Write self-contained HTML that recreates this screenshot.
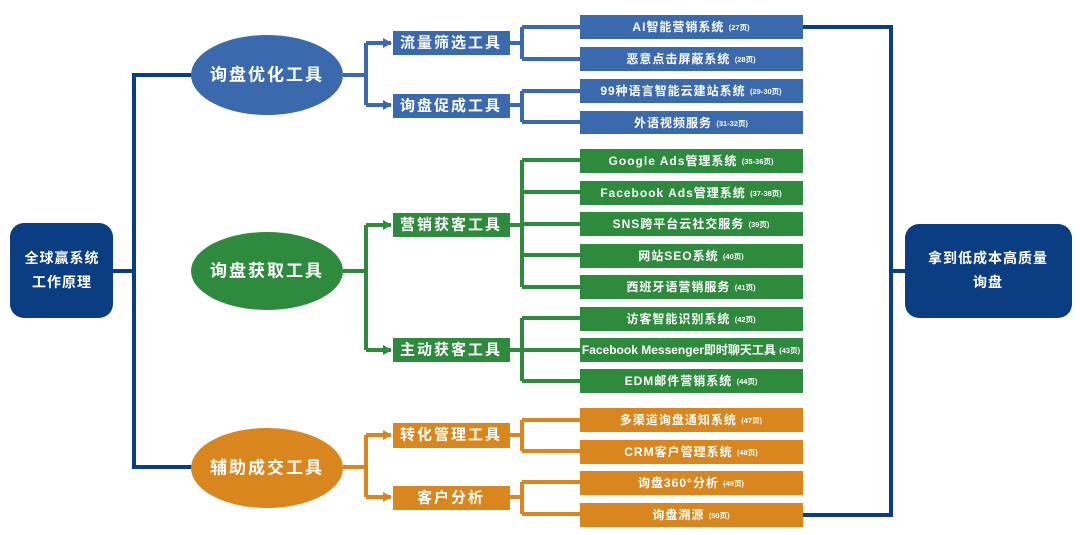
<!DOCTYPE html>
<html><head><meta charset="utf-8"><style>
html,body{margin:0;padding:0;background:#fff}
svg{display:block}
text{font-family:"Liberation Sans","Noto Sans CJK SC",sans-serif;font-weight:bold;fill:#fff;text-anchor:middle;dominant-baseline:central;letter-spacing:1px}
.t1{font-size:17px;letter-spacing:2px}
.t2{font-size:15px;letter-spacing:2px}
.t3{font-size:12px}
.p{font-size:7.5px;letter-spacing:0}
</style></head><body>
<svg width="1080" height="535" viewBox="0 0 1080 535">
<defs>
<marker id="ab" markerWidth="10" markerHeight="10" refX="8" refY="5" orient="auto" markerUnits="userSpaceOnUse"><path d="M0,0 L9,5 L0,10z" fill="#3a6aad"/></marker>
<marker id="ag" markerWidth="10" markerHeight="10" refX="8" refY="5" orient="auto" markerUnits="userSpaceOnUse"><path d="M0,0 L9,5 L0,10z" fill="#2e8b3e"/></marker>
<marker id="ao" markerWidth="10" markerHeight="10" refX="8" refY="5" orient="auto" markerUnits="userSpaceOnUse"><path d="M0,0 L9,5 L0,10z" fill="#d9861f"/></marker>
</defs>
<g fill="none" stroke-width="4">
<path d="M113,271 H134 M193,75 H134 V467 H193" stroke="#0b3d82"/>
<path d="M803,27 H891 V515 H803 M891,271 H905" stroke="#0b3d82"/>
<path d="M343,75 H366 M366,43 V105" stroke="#3a6aad"/>
<path d="M366,43 H391" stroke="#3a6aad" marker-end="url(#ab)"/>
<path d="M366,105 H391" stroke="#3a6aad" marker-end="url(#ab)"/>
<path d="M510,43 H522 M522,27 V59 M522,27 H580 M522,59 H580 M510,105 H522 M522,91 V122 M522,91 H580 M522,122 H580" stroke="#3a6aad"/>
<path d="M343,271 H366 M366,225 V350" stroke="#2e8b3e"/>
<path d="M366,225 H391" stroke="#2e8b3e" marker-end="url(#ag)"/>
<path d="M366,350 H391" stroke="#2e8b3e" marker-end="url(#ag)"/>
<path d="M510,225 H522 M522,160 V287 M522,160 H580 M522,192 H580 M522,224 H580 M522,255 H580 M522,287 H580 M510,350 H522 M522,318 V381 M522,318 H580 M522,350 H580 M522,381 H580" stroke="#2e8b3e"/>
<path d="M343,467 H366 M366,435 V497" stroke="#d9861f"/>
<path d="M366,435 H391" stroke="#d9861f" marker-end="url(#ao)"/>
<path d="M366,497 H391" stroke="#d9861f" marker-end="url(#ao)"/>
<path d="M510,435 H522 M522,420 V451 M522,420 H580 M522,451 H580 M510,497 H522 M522,482 V514 M522,482 H580 M522,514 H580" stroke="#d9861f"/>
</g>
<rect x="10" y="223" width="103" height="95" rx="14" fill="#0b3d82"/>
<text x="62" y="258" class="t3" style="font-size:14px">全球赢系统</text>
<text x="62" y="282" class="t3" style="font-size:14px">工作原理</text>
<rect x="905" y="224" width="167" height="94" rx="14" fill="#0b3d82"/>
<text x="988" y="258" class="t3" style="font-size:14px">拿到低成本高质量</text>
<text x="988" y="282" class="t3" style="font-size:14px">询盘</text>
<ellipse cx="267" cy="75" rx="76" ry="40" fill="#3a6aad"/><text x="267" y="75" class="t1">询盘优化工具</text>
<ellipse cx="267" cy="271" rx="76" ry="39" fill="#2e8b3e"/><text x="267" y="271" class="t1">询盘获取工具</text>
<ellipse cx="267" cy="468" rx="76" ry="40" fill="#d9861f"/><text x="267" y="468" class="t1">辅助成交工具</text>
<g fill="#3a6aad"><rect x="393" y="31" width="117" height="24"/><rect x="393" y="94" width="117" height="24"/></g>
<text x="451" y="43" class="t2">流量筛选工具</text><text x="451" y="106" class="t2">询盘促成工具</text>
<g fill="#2e8b3e"><rect x="393" y="213" width="117" height="24"/><rect x="393" y="338" width="117" height="24"/></g>
<text x="451" y="225" class="t2">营销获客工具</text><text x="451" y="350" class="t2">主动获客工具</text>
<g fill="#d9861f"><rect x="393" y="423" width="117" height="25"/><rect x="393" y="486" width="117" height="24"/></g>
<text x="451" y="435" class="t2">转化管理工具</text><text x="451" y="498" class="t2">客户分析</text>
<g fill="#3a6aad"><rect x="580" y="15" width="223" height="24"/><rect x="580" y="47" width="223" height="24"/><rect x="580" y="79" width="223" height="24"/><rect x="580" y="111" width="223" height="23"/></g>
<g fill="#2e8b3e"><rect x="580" y="149" width="223" height="24"/><rect x="580" y="181" width="223" height="24"/><rect x="580" y="212" width="223" height="24"/><rect x="580" y="244" width="223" height="24"/><rect x="580" y="275" width="223" height="24"/><rect x="580" y="307" width="223" height="24"/><rect x="580" y="338" width="223" height="24"/><rect x="580" y="369" width="223" height="24"/></g>
<g fill="#d9861f"><rect x="580" y="408" width="223" height="24"/><rect x="580" y="440" width="223" height="24"/><rect x="580" y="471" width="223" height="24"/><rect x="580" y="503" width="223" height="24"/></g>
<text x="691" y="27" class="t3">AI智能营销系统 <tspan class="p">(27页)</tspan></text>
<text x="691" y="59" class="t3">恶意点击屏蔽系统 <tspan class="p">(28页)</tspan></text>
<text x="691" y="91" class="t3">99种语言智能云建站系统 <tspan class="p">(29-30页)</tspan></text>
<text x="691" y="123" class="t3">外语视频服务 <tspan class="p">(31-32页)</tspan></text>
<text x="691" y="161" class="t3">Google Ads管理系统 <tspan class="p">(35-36页)</tspan></text>
<text x="691" y="193" class="t3">Facebook Ads管理系统 <tspan class="p">(37-38页)</tspan></text>
<text x="691" y="224" class="t3">SNS跨平台云社交服务 <tspan class="p">(39页)</tspan></text>
<text x="691" y="256" class="t3">网站SEO系统 <tspan class="p">(40页)</tspan></text>
<text x="691" y="287" class="t3">西班牙语营销服务 <tspan class="p">(41页)</tspan></text>
<text x="691" y="319" class="t3">访客智能识别系统 <tspan class="p">(42页)</tspan></text>
<text x="691" y="350" class="t3" style="letter-spacing:0">Facebook Messenger即时聊天工具 <tspan class="p">(43页)</tspan></text>
<text x="691" y="381" class="t3">EDM邮件营销系统 <tspan class="p">(44页)</tspan></text>
<text x="691" y="420" class="t3">多渠道询盘通知系统 <tspan class="p">(47页)</tspan></text>
<text x="691" y="452" class="t3">CRM客户管理系统 <tspan class="p">(48页)</tspan></text>
<text x="691" y="483" class="t3">询盘360°分析 <tspan class="p">(49页)</tspan></text>
<text x="691" y="515" class="t3">询盘溯源 <tspan class="p">(50页)</tspan></text>
</svg>
</body></html>
